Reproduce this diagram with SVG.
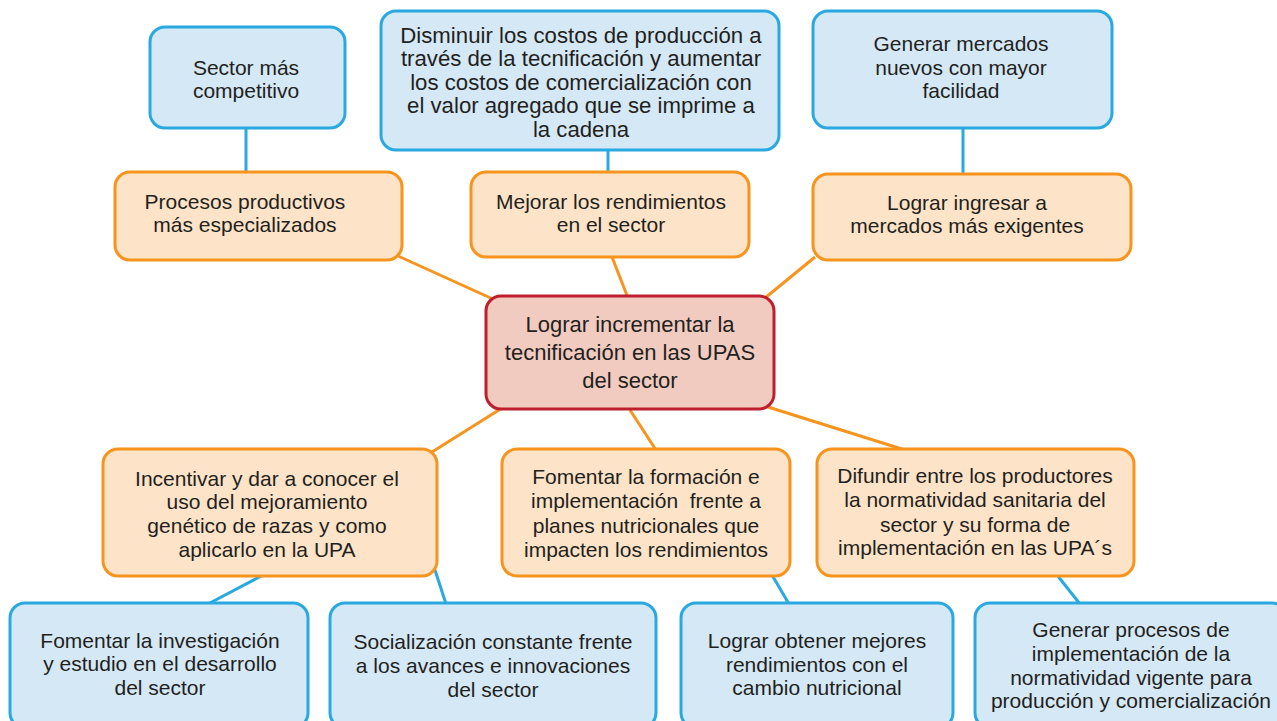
<svg xmlns="http://www.w3.org/2000/svg" width="1277" height="721" viewBox="0 0 1277 721">
<style>
.blue{fill:#d5e8f6;stroke:#29a9e0;stroke-width:3}
.orange{fill:#fde3c7;stroke:#f7941d;stroke-width:3}
.center{fill:#f1cbbf;stroke:#be1e2d;stroke-width:3}
.lo{stroke:#f7941d;stroke-width:3;fill:none}
.lb{stroke:#29a9e0;stroke-width:3;fill:none}
text{font-family:"Liberation Sans",Arial,sans-serif;font-size:21px;fill:#231f20;text-anchor:middle}
.big{font-size:22px}
.wide{font-size:22.2px}
</style>
<rect width="1277" height="721" fill="#ffffff"/>
<g id="connectors">
<line class="lo" x1="398" y1="256" x2="495" y2="300"/>
<line class="lo" x1="612" y1="257" x2="628" y2="298"/>
<line class="lo" x1="815" y1="257" x2="765" y2="298"/>
<line class="lo" x1="502" y1="408" x2="432" y2="452"/>
<line class="lo" x1="630" y1="410" x2="656" y2="450"/>
<line class="lo" x1="768" y1="407" x2="905" y2="450"/>
<line class="lb" x1="246" y1="128" x2="246" y2="172"/>
<line class="lb" x1="608" y1="150" x2="608" y2="172"/>
<line class="lb" x1="963" y1="128" x2="963" y2="174"/>
<line class="lb" x1="263" y1="575" x2="208" y2="604"/>
<line class="lb" x1="435" y1="570" x2="446" y2="604"/>
<line class="lb" x1="772" y1="575" x2="789" y2="604"/>
<line class="lb" x1="1057" y1="575" x2="1080" y2="604"/>
</g>
<g id="n-sector">
<rect class="blue" x="150" y="27" width="195" height="101" rx="15"/>
<text x="246"><tspan x="246" y="75">Sector más</tspan><tspan x="246" y="98">competitivo</tspan></text>
</g>
<g id="n-disminuir">
<rect class="blue" x="381" y="11" width="398" height="139" rx="15"/>
<text class="wide"><tspan x="581" y="43">Disminuir los costos de producción a</tspan><tspan x="581" y="66">través de la tecnificación y aumentar</tspan><tspan x="581" y="90">los costos de comercialización con</tspan><tspan x="581" y="113">el valor agregado que se imprime a</tspan><tspan x="581" y="137">la cadena</tspan></text>
</g>
<g id="n-generar-mercados">
<rect class="blue" x="813" y="11" width="299" height="117" rx="15"/>
<text><tspan x="961" y="51">Generar mercados</tspan><tspan x="961" y="75">nuevos con mayor</tspan><tspan x="961" y="98">facilidad</tspan></text>
</g>
<g id="n-procesos">
<rect class="orange" x="115" y="172" width="287" height="88" rx="15"/>
<text><tspan x="245" y="209">Procesos productivos</tspan><tspan x="245" y="232">más especializados</tspan></text>
</g>
<g id="n-mejorar">
<rect class="orange" x="471" y="172" width="278" height="85" rx="15"/>
<text><tspan x="611" y="209">Mejorar los rendimientos</tspan><tspan x="611" y="232">en el sector</tspan></text>
</g>
<g id="n-lograr-ingresar">
<rect class="orange" x="813" y="174" width="318" height="86" rx="15"/>
<text><tspan x="967" y="210">Lograr ingresar a</tspan><tspan x="967" y="233">mercados más exigentes</tspan></text>
</g>
<g id="n-center">
<rect class="center" x="486" y="296" width="288" height="113" rx="15"/>
<text class="big"><tspan x="630" y="332">Lograr incrementar la</tspan><tspan x="630" y="360">tecnificación en las UPAS</tspan><tspan x="630" y="388">del sector</tspan></text>
</g>
<g id="n-incentivar">
<rect class="orange" x="103" y="449" width="334" height="127" rx="15"/>
<text><tspan x="267" y="486">Incentivar y dar a conocer el</tspan><tspan x="267" y="509">uso del mejoramiento</tspan><tspan x="267" y="533">genético de razas y como</tspan><tspan x="267" y="557">aplicarlo en la UPA</tspan></text>
</g>
<g id="n-fomentar-formacion">
<rect class="orange" x="502" y="449" width="288" height="127" rx="15"/>
<text><tspan x="646" y="484">Fomentar la formación e</tspan><tspan x="646" y="508">implementación&#160; frente a</tspan><tspan x="646" y="533">planes nutricionales que</tspan><tspan x="646" y="557">impacten los rendimientos</tspan></text>
</g>
<g id="n-difundir">
<rect class="orange" x="817" y="449" width="317" height="127" rx="15"/>
<text><tspan x="975" y="483">Difundir entre los productores</tspan><tspan x="975" y="507">la normatividad sanitaria del</tspan><tspan x="975" y="532">sector y su forma de</tspan><tspan x="975" y="555">implementación en las UPA´s</tspan></text>
</g>
<g id="n-investigacion">
<rect class="blue" x="10" y="603" width="298" height="125" rx="15"/>
<text><tspan x="160" y="648">Fomentar la investigación</tspan><tspan x="160" y="671">y estudio en el desarrollo</tspan><tspan x="160" y="695">del sector</tspan></text>
</g>
<g id="n-socializacion">
<rect class="blue" x="330" y="603" width="326" height="125" rx="15"/>
<text><tspan x="493" y="649">Socialización constante frente</tspan><tspan x="493" y="673">a los avances e innovaciones</tspan><tspan x="493" y="697">del sector</tspan></text>
</g>
<g id="n-lograr-obtener">
<rect class="blue" x="681" y="603" width="272" height="125" rx="15"/>
<text><tspan x="817" y="648">Lograr obtener mejores</tspan><tspan x="817" y="672">rendimientos con el</tspan><tspan x="817" y="695">cambio nutricional</tspan></text>
</g>
<g id="n-generar-procesos">
<rect class="blue" x="975" y="603" width="312" height="125" rx="15"/>
<text><tspan x="1131" y="637">Generar procesos de</tspan><tspan x="1131" y="661">implementación de la</tspan><tspan x="1131" y="685">normatividad vigente para</tspan><tspan x="1131" y="708">producción y comercialización</tspan></text>
</g>
</svg>
